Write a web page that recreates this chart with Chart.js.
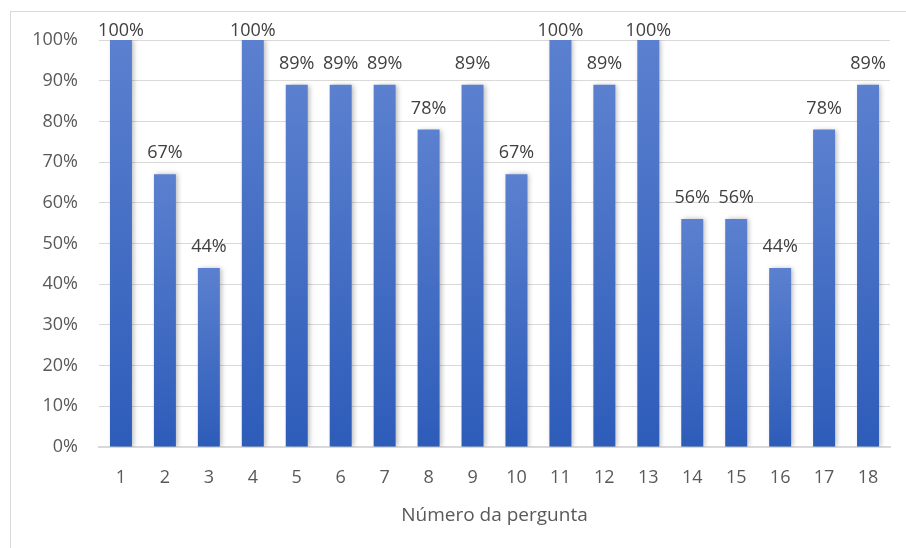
<!DOCTYPE html>
<html>
<head>
<meta charset="utf-8">
<script src="https://cdn.jsdelivr.net/npm/chart.js@4"></script>
<style>
  html, body { margin:0; padding:0; background:#fff; }
  #wrap { position:relative; width:906px; height:548px; overflow:hidden; }
  #frame { position:absolute; left:10px; top:11px; width:920px; height:560px; border:1px solid #d9d9d9; }
  canvas { position:absolute; left:0; top:0; }
</style>
</head>
<body>
<div id="wrap">
  <div id="frame"></div>
  <canvas id="barChart" width="906" height="548"></canvas>
</div>
<script>
const perguntas = ['1','2','3','4','5','6','7','8','9','10','11','12','13','14','15','16','17','18'];
const acertos = [100, 67, 44, 100, 89, 89, 89, 78, 89, 67, 100, 89, 100, 56, 56, 44, 78, 89];
const yTicks = [0,10,20,30,40,50,60,70,80,90,100];

const FONT = '"Open Sans", "Liberation Sans", sans-serif';

// per-bar vertical gradient, light on top, darker at base
function barGradient(ctx) {
  const chart = ctx.chart;
  const y = chart.scales.y;
  if (!y || !chart.chartArea) return '#4472c4';
  const top = y.getPixelForValue(acertos[ctx.dataIndex]);
  const bottom = y.getPixelForValue(0);
  const g = chart.ctx.createLinearGradient(0, top, 0, bottom);
  g.addColorStop(0, '#5b80cf');
  g.addColorStop(1, '#2d5cb9');
  return g;
}

const shadowPlugin = {
  id:'shadow',
  beforeDatasetsDraw(chart) {
    const c = chart.ctx;
    c.save();
    c.shadowColor = 'rgba(0,0,0,0.28)';
    c.shadowBlur = 5;
    c.shadowOffsetX = 2;
    c.shadowOffsetY = 0;
  },
  afterDatasetsDraw(chart) { chart.ctx.restore(); }
};

const labelPlugin = {
  id:'valueLabels',
  afterDatasetsDraw(chart) {
    const c = chart.ctx;
    const meta = chart.getDatasetMeta(0);
    c.save();
    c.font = '18px ' + FONT;
    c.fillStyle = '#404040';
    c.textAlign = 'center';
    c.textBaseline = 'middle';
    meta.data.forEach((bar, i) => {
      const y = Math.max(bar.y - 21, 31);
      c.fillText(acertos[i] + '%', bar.x, y);
    });
    c.restore();
  }
};

new Chart(document.getElementById('barChart').getContext('2d'), {
  type:'bar',
  data:{ labels:perguntas, datasets:[{ data:acertos, backgroundColor:barGradient, borderWidth:0, categoryPercentage:1, barPercentage:0.5 }] },
  options:{
    responsive:false, animation:false,
    layout:{ padding:{ left:10, right:16, top:40, bottom:0 } },
    plugins:{ legend:{display:false}, tooltip:{enabled:false} },
    scales:{
      x:{
        grid:{ display:false, drawTicks:false },
        border:{ color:'#d9d9d9', width:2 },
        ticks:{ color:'#595959', font:{ family:FONT, size:18 }, padding:20 },
        title:{ display:true, text:'Número da pergunta', color:'#595959', font:{ family:FONT, size:19 }, padding:{ top:0, bottom:21 } },
        afterFit: s => { s.height = 101; }
      },
      y:{
        min:0, max:100,
        grid:{ color:'#d9d9d9', drawTicks:false },
        border:{ display:false },
        afterBuildTicks: s => { s.ticks = yTicks.map(v => ({ value:v })); },
        ticks:{ color:'#595959', font:{ family:FONT, size:18 }, padding:21, callback: v => v + '%' },
        afterFit: s => { s.width = 89; }
      }
    }
  },
  plugins:[shadowPlugin, labelPlugin]
});
</script>
</body>
</html>
